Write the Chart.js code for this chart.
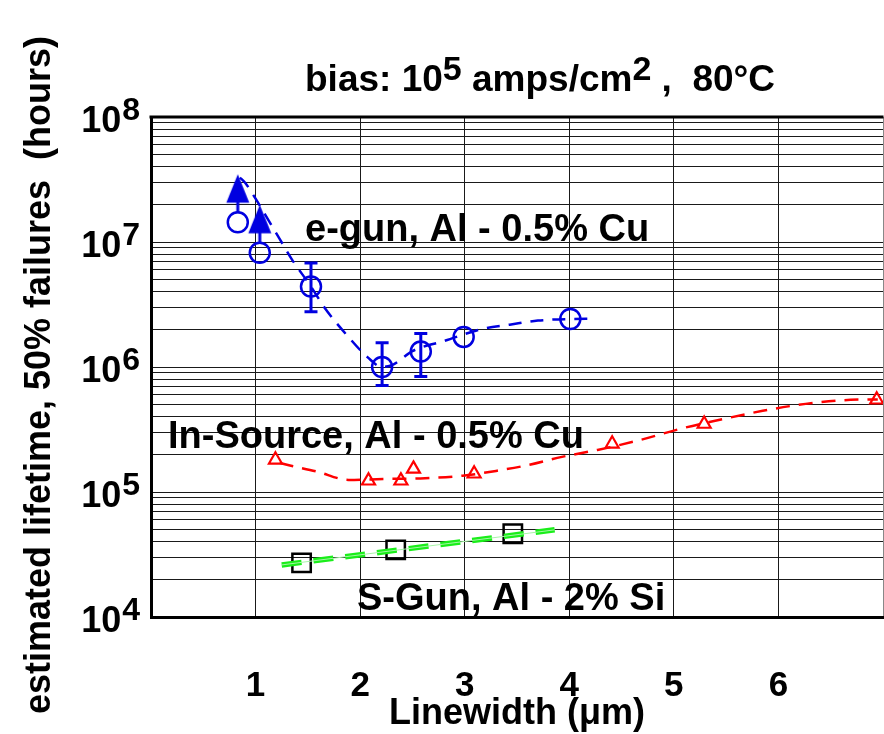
<!DOCTYPE html>
<html><head><meta charset="utf-8">
<script src="https://cdn.jsdelivr.net/npm/chart.js@4.4.1/dist/chart.umd.min.js"></script>
<style>html,body{margin:0;padding:0;background:#fff}#wrap{width:884px;height:734px}</style>
</head><body><div id="wrap"><canvas id="c" width="884" height="734"></canvas></div>
<script>
// ---------------- data ----------------
const xTickValues = [1, 2, 3, 4, 5, 6];
const yDecades = [1e4, 1e5, 1e6, 1e7, 1e8];
const yExponents = ['4', '5', '6', '7', '8'];
const yMinorFactors = [1, 2, 3, 4, 5, 6, 7, 8, 9];

// e-gun, Al - 0.5% Cu
const eGunX = [0.83, 1.04, 1.53, 2.21, 2.58, 2.99, 4.01];
const eGunY = [1.44e7, 8.2e6, 4.4e6, 1.0e6, 1.33e6, 1.74e6, 2.42e6];
const eGunArrowX = [0.83, 1.04];
const eGunArrowY = [1.44e7, 8.2e6];
const eGunErrX = [1.53, 2.21, 2.58];
const eGunErrLow = [2.77e6, 7.1e5, 8.4e5];
const eGunErrHigh = [6.8e6, 1.56e6, 1.85e6];
const eGunFitX = [0.85, 0.90, 1.00, 1.12, 1.23, 1.35, 1.53, 1.66, 1.87, 2.07, 2.21, 2.32, 2.50, 2.81, 3.17, 3.43, 3.70, 4.01, 4.23];
const eGunFitY = [3.28e7, 2.98e7, 2.22e7, 1.51e7, 1.06e7, 7.2e6, 4.4e6, 2.98e6, 1.81e6, 1.2e6, 1.0e6, 1.05e6, 1.34e6, 1.62e6, 2.02e6, 2.18e6, 2.35e6, 2.42e6, 2.43e6];

// In-Source, Al - 0.5% Cu
const inSrcX = [1.19, 2.08, 2.39, 2.51, 3.09, 4.41, 5.29, 6.94];
const inSrcY = [1.81e5, 1.23e5, 1.23e5, 1.53e5, 1.40e5, 2.43e5, 3.5e5, 5.47e5];
const inSrcFitX = [1.23, 1.30, 1.585, 1.89, 2.22, 2.62, 2.98, 3.31, 3.62, 3.93, 4.27, 4.68, 5.06, 5.44, 5.85, 6.26, 6.69, 6.95];
const inSrcFitY = [1.71e5, 1.65e5, 1.46e5, 1.25e5, 1.27e5, 1.29e5, 1.35e5, 1.48e5, 1.65e5, 1.91e5, 2.17e5, 2.61e5, 3.20e5, 3.78e5, 4.46e5, 5.07e5, 5.46e5, 5.5e5];

// S-Gun, Al - 2% Si
const sGunX = [1.44, 2.34, 3.46];
const sGunY = [2.71e4, 3.44e4, 4.63e4];
const sGunFitX = [1.25, 3.86];
const sGunFitY = [2.61e4, 4.98e4];

// ---------------- styles ----------------
const FONT = 'Arial, "Liberation Sans", Helvetica, sans-serif';
const BLUE = '#0000e0';
const RED = '#ff0000';
const GREEN = '#1aee1a';
const GRID = '#1a1a1a';

const pts = (xs, ys) => xs.map((v, i) => ({x: v, y: ys[i]}));
const yGridValues = [];
yDecades.forEach(d => { if (d < 1e8) yMinorFactors.forEach(f => yGridValues.push(d * f)); else yGridValues.push(d); });

function makeArrow() {
  const c = document.createElement('canvas');
  c.width = 26; c.height = 100;
  const g = c.getContext('2d');
  g.strokeStyle = BLUE; g.fillStyle = BLUE; g.lineWidth = 3;
  g.beginPath(); g.moveTo(13, 41); g.lineTo(13, 29); g.stroke();
  g.beginPath(); g.moveTo(13, 2); g.lineTo(24.5, 30.5); g.lineTo(1.5, 30.5); g.closePath(); g.fill();
  return c;
}

const annot = {
  id: 'annot',
  afterDatasetsDraw(chart) {
    const {ctx, scales: {x, y}} = chart;
    ctx.save();
    ctx.strokeStyle = BLUE; ctx.lineWidth = 3;
    eGunErrX.forEach((xv, i) => {
      const px = x.getPixelForValue(xv);
      const pt = y.getPixelForValue(eGunErrHigh[i]);
      const pb = y.getPixelForValue(eGunErrLow[i]);
      ctx.beginPath();
      ctx.moveTo(px, pt); ctx.lineTo(px, pb);
      ctx.moveTo(px - 6.5, pt); ctx.lineTo(px + 6.5, pt);
      ctx.moveTo(px - 6.5, pb); ctx.lineTo(px + 6.5, pb);
      ctx.stroke();
    });
    ctx.restore();
  },
  afterDraw(chart) {
    const {ctx, chartArea: a, scales: {y}} = chart;
    ctx.save();
    // top frame line
    ctx.strokeStyle = '#000'; ctx.lineWidth = 3;
    ctx.beginPath(); ctx.moveTo(a.left - 1.5, a.top); ctx.lineTo(a.right + 0.5, a.top); ctx.stroke();
    ctx.fillStyle = '#000';
    // y tick labels with superscripts
    yDecades.forEach((v, i) => {
      const py = y.getPixelForValue(v);
      ctx.font = 'bold 32px ' + FONT;
      const ws = ctx.measureText(yExponents[i]).width;
      ctx.textAlign = 'left'; ctx.textBaseline = 'alphabetic';
      ctx.fillText(yExponents[i], 140 - ws, py + 3);
      ctx.font = 'bold 36px ' + FONT;
      ctx.textAlign = 'right';
      ctx.fillText('10', 140 - ws - 1, py + 15);
    });
    // y axis title
    ctx.save();
    ctx.translate(50, 375); ctx.rotate(-Math.PI / 2);
    ctx.font = 'bold 36px ' + FONT; ctx.textAlign = 'center'; ctx.textBaseline = 'alphabetic';
    ctx.fillText('estimated lifetime, 50% failures  (hours)', 0, 0);
    ctx.restore();
    // title with superscripts
    ctx.textAlign = 'left'; ctx.textBaseline = 'alphabetic';
    const parts = [['bias: 10', 0], ['5', 1], [' amps/cm', 0], ['2', 1], [' ,  80\u00B0C', 0]];
    let tx = 305;
    parts.forEach(([t, sup]) => {
      ctx.font = 'bold ' + (sup ? 34 : 37) + 'px ' + FONT;
      ctx.fillText(t, tx, sup ? 80 : 91);
      tx += ctx.measureText(t).width;
    });
    // series labels
    ctx.font = 'bold 38px ' + FONT;
    ctx.fillText('e-gun, Al - 0.5% Cu', 305, 241);
    ctx.fillText('In-Source, Al - 0.5% Cu', 168, 448);
    ctx.fillText('S-Gun, Al - 2% Si', 357, 610);
    ctx.restore();
  }
};

new Chart(document.getElementById('c'), {
  type: 'scatter',
  data: {
    datasets: [
      {data: pts(sGunFitX, sGunFitY), showLine: true, borderColor: '#a6f5a6', borderWidth: 1, pointRadius: 0},
      {data: pts(sGunFitX, sGunFitY), showLine: true, borderColor: GREEN, borderWidth: 5.5, borderDash: [20, 12], pointRadius: 0},
      {data: pts(inSrcFitX, inSrcFitY), showLine: true, borderColor: RED, borderWidth: 2.5, borderDash: [14, 9], pointRadius: 0, cubicInterpolationMode: 'monotone'},
      {data: pts(eGunFitX, eGunFitY), showLine: true, borderColor: BLUE, borderWidth: 2.5, borderDash: [13, 9], pointRadius: 0, cubicInterpolationMode: 'monotone'},
      {data: pts(sGunX, sGunY), showLine: false, pointStyle: 'rect', pointRadius: 13, borderColor: '#000', borderWidth: 2.5, backgroundColor: 'rgba(0,0,0,0)'},
      {data: pts(inSrcX, inSrcY), showLine: false, pointStyle: 'triangle', pointRadius: 7.5, borderColor: RED, borderWidth: 2.2, backgroundColor: 'rgba(0,0,0,0)'},
      {data: pts(eGunX, eGunY), showLine: false, pointStyle: 'circle', pointRadius: 10, borderColor: BLUE, borderWidth: 2.5, backgroundColor: 'rgba(0,0,0,0)'},
      {data: pts(eGunArrowX, eGunArrowY), showLine: false, pointStyle: makeArrow(), pointRadius: 10, borderWidth: 0}
    ]
  },
  options: {
    responsive: false, animation: false, devicePixelRatio: 1,
    layout: {autoPadding: false, padding: {top: 117, right: 1, bottom: 0, left: 0}},
    plugins: {legend: {display: false}, tooltip: {enabled: false}},
    scales: {
      x: {
        type: 'linear', min: 0, max: 7, position: 'bottom',
        afterBuildTicks: s => { s.ticks = [0].concat(xTickValues, [7]).map(v => ({value: v})); },
        afterFit: s => { s.height = 117; s.paddingLeft = 0; s.paddingRight = 0; },
        ticks: {
          callback: v => (xTickValues.includes(v) ? String(v) : ''),
          font: {family: FONT, size: 35, weight: 'bold'}, color: '#000', padding: 0,
          maxRotation: 0, autoSkip: false
        },
        grid: {color: ctx => (ctx.tick && ctx.tick.value === 7 ? '#888' : GRID), lineWidth: 1, drawTicks: true, tickLength: 48, tickColor: 'rgba(0,0,0,0)'},
        border: {display: true, width: 3, color: '#000'},
        title: {display: true, text: 'Linewidth (\u03BCm)', color: '#000', font: {family: FONT, size: 36, weight: 'bold', lineHeight: 1.1}, padding: {top: 0, bottom: 0}}
      },
      y: {
        type: 'logarithmic', min: 1e4, max: 1e8,
        afterBuildTicks: s => { s.ticks = yGridValues.map(v => ({value: v})); },
        afterFit: s => { s.width = 151; },
        ticks: {display: false},
        grid: {color: GRID, lineWidth: 1, drawTicks: false},
        border: {display: true, width: 3, color: '#000'}
      }
    }
  },
  plugins: [annot]
});
</script>
</body></html>
